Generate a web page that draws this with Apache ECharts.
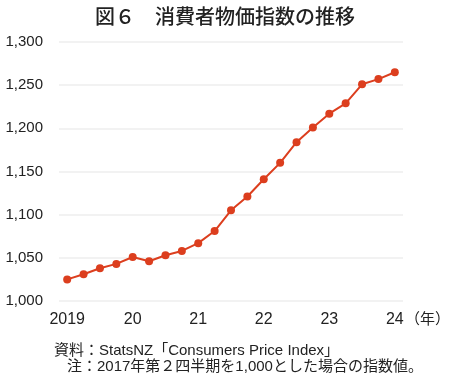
<!DOCTYPE html>
<html><head><meta charset="utf-8">
<script src="https://cdn.jsdelivr.net/npm/echarts@6/dist/echarts.min.js"></script>
<style>html,body{margin:0;padding:0;background:#fff}#c{width:450px;height:386px}</style>
</head><body><div id="c"></div>
<script>
const categories = ['2019Q1','2019Q2','2019Q3','2019Q4','2020Q1','2020Q2','2020Q3','2020Q4','2021Q1','2021Q2','2021Q3','2021Q4','2022Q1','2022Q2','2022Q3','2022Q4','2023Q1','2023Q2','2023Q3','2023Q4','2024Q1'];
const tickLabels = ['2019','','','','20','','','','21','','','','22','','','','23','','','','24'];
const cpi = [1025,1031,1038,1043,1051,1046,1053,1058,1067,1081,1105,1121,1141,1160,1184,1201,1217,1229,1251,1257,1265];
const yTicks = [1000,1050,1100,1150,1200,1250,1300];

const FONT = '"Liberation Sans","Noto Sans CJK JP",sans-serif';
const CJK = '"Noto Sans CJK JP",sans-serif';
const chart = echarts.init(document.getElementById('c'), null, {renderer:'canvas'});
chart.setOption({
  animation:false,
  textStyle:{fontFamily:FONT},
  title:{text:'図６　消費者物価指数の推移', left:'center', top:1,
    textStyle:{fontFamily:CJK, fontSize:20, fontWeight:500, color:'#222'}},
  grid:{left:59, right:47, top:42, bottom:85},
  xAxis:{type:'category', data:categories, boundaryGap:true,
    axisLine:{show:false}, axisTick:{show:false},
    axisLabel:{interval:0, formatter:(v,i)=>tickLabels[i], fontSize:16, color:'#222', margin:11, fontFamily:FONT}},
  yAxis:{type:'value', min:yTicks[0], max:yTicks[yTicks.length-1], interval:50,
    axisLine:{show:false}, axisTick:{show:false},
    axisLabel:{fontSize:15, color:'#222', margin:16, fontFamily:FONT,
      formatter:v=>v.toLocaleString('en-US')},
    splitLine:{lineStyle:{color:'#eeeeee', width:1.5}}},
  series:[{type:'line', data:cpi, symbol:'circle', symbolSize:8,
    lineStyle:{color:'#DC3E1E', width:2}, itemStyle:{color:'#DC3E1E'}}],
  graphic:[
    {type:'text', left:405, top:311, style:{text:'（年）', font:'15px '+CJK, fill:'#222'}},
    {type:'text', left:54, top:343, style:{text:'資料：StatsNZ「Consumers Price Index」', font:'15px '+FONT, fill:'#222'}},
    {type:'text', left:67, top:359, style:{text:'注：2017年第２四半期を1,000とした場合の指数値。', font:'15px '+FONT, fill:'#222'}}
  ]
});
</script></body></html>
